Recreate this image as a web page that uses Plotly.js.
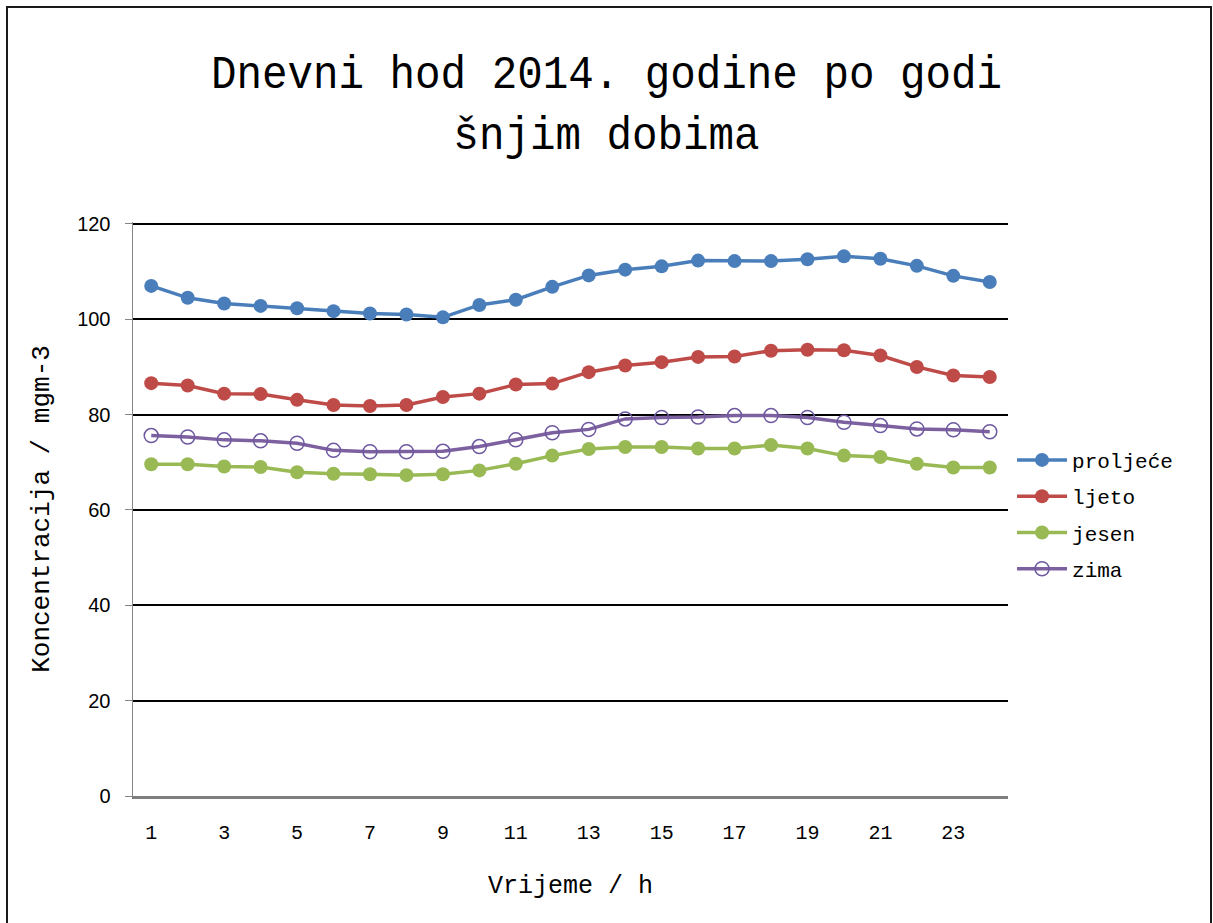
<!DOCTYPE html>
<html>
<head>
<meta charset="utf-8">
<script src="https://cdn.plot.ly/plotly-3.0.1.min.js"></script>
<style>
  html, body { margin: 0; padding: 0; background: #ffffff; }
  #wrap { position: relative; width: 1213px; height: 923px; overflow: hidden; }
  #chart { position: absolute; left: 0; top: 0; width: 1213px; height: 923px; }
  #frame { position: absolute; left: 6px; top: 6px; width: 1202px; height: 940px;
           border: 2px solid #1a1a1a; border-bottom: none; pointer-events: none; }
</style>
</head>
<body>
<div id="wrap">
  <div id="chart"></div>
  <div id="frame"></div>
</div>
<script>
// ---- data ----
const hours = [1,2,3,4,5,6,7,8,9,10,11,12,13,14,15,16,17,18,19,20,21,22,23,24];
const xTickVals = [1,3,5,7,9,11,13,15,17,19,21,23];
const seriesNames = ["proljeće", "ljeto", "jesen", "zima"];
const proljece = [107.0,104.5,103.3,102.8,102.3,101.7,101.2,101.0,100.4,103.0,104.1,106.8,109.2,110.4,111.1,112.3,112.2,112.2,112.6,113.2,112.7,111.2,109.1,107.8];
const ljeto    = [86.6,86.1,84.4,84.3,83.1,82.0,81.8,82.0,83.7,84.4,86.3,86.5,88.9,90.3,91.0,92.1,92.2,93.4,93.6,93.5,92.4,90.0,88.2,87.9];
const jesen    = [69.6,69.6,69.1,69.0,67.9,67.6,67.5,67.3,67.5,68.3,69.7,71.4,72.8,73.2,73.2,72.9,72.9,73.6,72.9,71.4,71.1,69.7,68.9,68.9];
const zima     = [75.6,75.3,74.7,74.5,74.0,72.5,72.2,72.2,72.3,73.3,74.7,76.2,76.9,79.1,79.4,79.5,79.8,79.8,79.4,78.4,77.7,77.0,76.8,76.4];
const yTickVals = [0,20,40,60,80,100,120];

const MONO = '"Liberation Mono", "DejaVu Sans Mono", monospace';

function filled(name, y, color) {
  return {
    x: hours, y: y, name: name, type: 'scatter', mode: 'lines+markers',
    legendgroup: name,
    line: { color: color, width: 3.5 },
    marker: { color: color, size: 14, symbol: 'circle' }
  };
}
const traces = [
  filled(seriesNames[0], proljece, '#4A7EBB'),
  filled(seriesNames[1], ljeto, '#BE4B48'),
  filled(seriesNames[2], jesen, '#98B954'),
  {
    x: hours, y: zima, name: seriesNames[3], type: 'scatter', mode: 'lines+markers',
    legendgroup: seriesNames[3],
    line: { color: '#7D60A0', width: 3.5 },
    marker: { color: '#6E58A0', size: 14, symbol: 'circle-open', line: { width: 1.5 } }
  }
];

const layout = {
  width: 1213, height: 923,
  paper_bgcolor: '#ffffff', plot_bgcolor: '#ffffff',
  margin: { l: 133, r: 205, t: 222, b: 127 },
  title: {
    text: 'Dnevni hod 2014. godine po godi<br>šnjim dobima',
    font: { family: MONO, size: 47, color: '#000000' },
    x: 0.5, xanchor: 'center', y: 0.905, yanchor: 'top'
  },
  xaxis: {
    range: [0.5, 24.5], tickmode: 'array', tickvals: xTickVals, ticktext: xTickVals.map(String),
    showgrid: false, zeroline: false, showline: true, linecolor: '#7f7f7f', linewidth: 2.5,
    ticks: '', ticklabelstandoff: 16,
    tickfont: { family: MONO, size: 20, color: '#000000' },
    title: { text: 'Vrijeme / h', font: { family: MONO, size: 25, color: '#000000' }, standoff: 32 }
  },
  yaxis: {
    range: [0, 120.4], tickmode: 'array', tickvals: yTickVals,
    showgrid: true, gridcolor: '#000000', gridwidth: 2, zeroline: false,
    showline: true, linecolor: '#868686', linewidth: 1.5,
    ticks: 'outside', ticklen: 7, tickcolor: '#868686', ticklabelstandoff: 10,
    tickfont: { family: '"Liberation Sans", Arial, sans-serif', size: 20, color: '#000000' },
    title: { text: 'Koncentracija / mgm-3', font: { family: MONO, size: 26, color: '#000000' }, standoff: 20 }
  },
  showlegend: true,
  legend: {
    x: 1.0046, xanchor: 'left', y: 0.49, yanchor: 'middle',
    font: { family: MONO, size: 21, color: '#000000' },
    bgcolor: 'rgba(0,0,0,0)', borderwidth: 0,
    traceorder: 'grouped', tracegroupgap: 6, itemwidth: 50
  }
};

Plotly.newPlot('chart', traces, layout, { displayModeBar: false, staticPlot: true }).then(function (gd) {
  // narrow the title glyphs horizontally (reference uses a tall, narrow monospace face)
  const t = gd.querySelector('.gtitle');
  if (t) {
    const cx = 1213 / 2;
    t.setAttribute('transform', 'translate(' + cx + ',0) scale(0.905,1) translate(' + (-cx) + ',0)');
  }
});
</script>
</body>
</html>
